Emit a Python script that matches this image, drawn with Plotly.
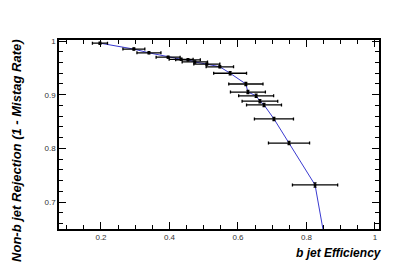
import plotly.graph_objects as go

# b-jet efficiency (x) vs non-b jet rejection (y)
efficiency = [0.197, 0.296, 0.340, 0.396, 0.434, 0.454, 0.474, 0.509, 0.547, 0.577,
              0.623, 0.629, 0.653, 0.664, 0.676, 0.705, 0.749, 0.825, 0.862]
rejection = [0.996, 0.985, 0.978, 0.970, 0.966, 0.965, 0.961, 0.957, 0.952, 0.940,
             0.920, 0.905, 0.898, 0.888, 0.881, 0.855, 0.810, 0.732, 0.600]
eff_err = [0.022, 0.032, 0.035, 0.035, 0.035, 0.036, 0.037, 0.038, 0.040, 0.048,
           0.050, 0.051, 0.051, 0.052, 0.051, 0.057, 0.060, 0.066, 0.070]
rej_err = [0.002, 0.002, 0.002, 0.002, 0.002, 0.002, 0.002, 0.002, 0.002, 0.003,
           0.003, 0.003, 0.003, 0.003, 0.003, 0.003, 0.003, 0.004, 0.004]

x_title = "b jet Efficiency"
y_title = "Non-b jet Rejection (1 - Mistag Rate)"

fig = go.Figure()
fig.add_trace(go.Scatter(
    x=efficiency, y=rejection, mode="lines",
    line=dict(color="#3a3ad0", width=1), showlegend=False, hoverinfo="skip"))
fig.add_trace(go.Scatter(
    x=efficiency, y=rejection, mode="markers",
    marker=dict(color="black", size=3),
    error_x=dict(type="data", array=eff_err, color="black", thickness=1.3, width=1.5),
    error_y=dict(type="data", array=rej_err, color="black", thickness=1.3, width=1.5),
    showlegend=False, cliponaxis=True))

axis_common = dict(
    showgrid=False, zeroline=False, showline=True, linecolor="black", linewidth=1.5,
    mirror="ticks", ticks="inside", ticklen=7, tickwidth=1, tickcolor="black",
    tickfont=dict(family="Liberation Sans, Arial, sans-serif", size=8, color="#333"),
)
fig.update_xaxes(range=[0.0774, 1.0117], dtick=0.2, tick0=0,
                 minor=dict(dtick=0.05, ticks="inside", ticklen=4, tickcolor="black"),
                 **axis_common)
fig.update_yaxes(range=[0.650, 1.0019], dtick=0.1, tick0=0,
                 minor=dict(dtick=0.02, ticks="inside", ticklen=4, tickcolor="black"),
                 **axis_common)

fam = "Liberation Sans, Arial, sans-serif"
fig.update_layout(
    width=399, height=270,
    margin=dict(l=51, r=28, t=32, b=49),
    paper_bgcolor="white", plot_bgcolor="white",
    annotations=[
        dict(text="<b><i>" + x_title + "</i></b>", xref="paper", yref="paper",
             x=1.015, y=-0.08, xanchor="right", yanchor="top", showarrow=False,
             font=dict(family=fam, size=12, color="black")),
        dict(text="<b><i>" + y_title + "</i></b>", xref="paper", yref="paper",
             x=-0.135, y=1.01, xanchor="center", yanchor="top", textangle=-90,
             showarrow=False, font=dict(family=fam, size=13, color="black")),
    ],
)

fig.write_html("out.html")
